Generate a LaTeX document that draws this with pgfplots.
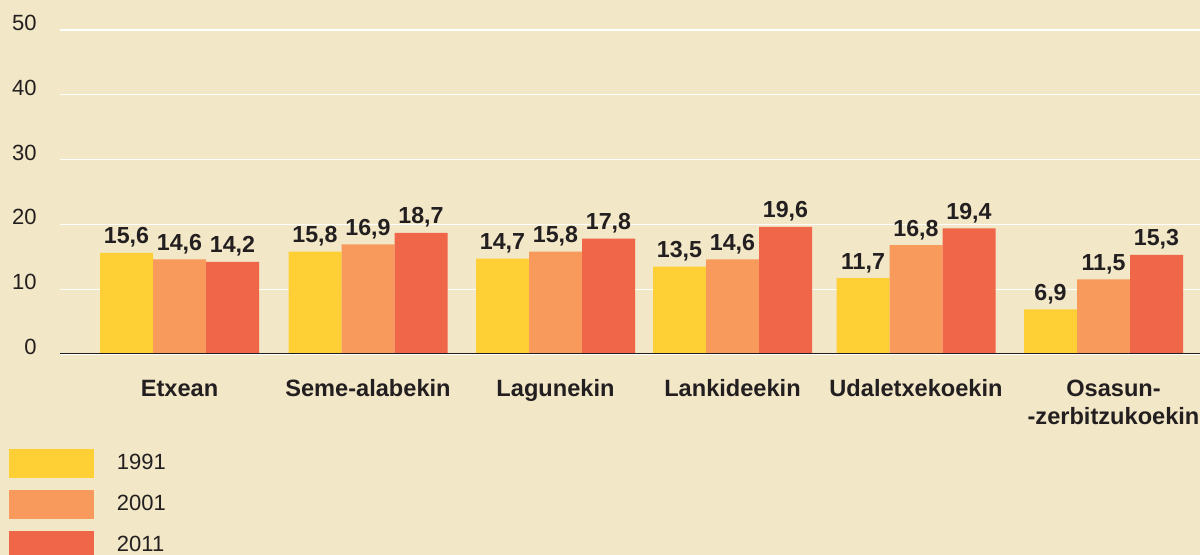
\documentclass[border=0pt]{standalone}
\usepackage{fontspec}
\setmainfont{Liberation Sans}
\usepackage{pgfplots}
\pgfplotsset{compat=1.18}
\pgfkeys{/pgf/number format/assume math mode=true}
\definecolor{bg}{RGB}{242,231,198}
\definecolor{cY}{RGB}{254,208,54}
\definecolor{cO}{RGB}{247,154,91}
\definecolor{cR}{RGB}{240,102,72}
\definecolor{txt}{RGB}{35,31,32}

\pgfplotstableread{
x      y91  y01  y11
179.5  15.6 14.6 14.2
368    15.8 16.9 18.7
555.5  14.7 15.8 17.8
732.5  13.5 14.6 19.6
916    11.7 16.8 19.4
1103.5 6.9  11.5 15.3
}\datatable

\begin{document}
\begin{tikzpicture}
\useasboundingbox (-30pt,-100.5pt) rectangle (570pt,177pt);
\clip (-30pt,-100.5pt) rectangle (570pt,177pt);
\fill[bg] (-30pt,-100.5pt) rectangle (570pt,177pt);
\begin{axis}[
  at={(0,0)}, anchor=south west,
  scale only axis, width=570pt, height=162pt,
  xmin=60, xmax=1200, ymin=0, ymax=50,
  axis line style={draw=none},
  major tick length=0pt,
  ytick={0,10,20,30,40,50},
  ymajorgrids, grid style={white, line width=0.6pt},
  yticklabel style={anchor=east, inner sep=0pt, xshift=-11.5pt, yshift=3.5pt,
    text=txt, font=\fontsize{11pt}{13pt}\selectfont},
  xtick={179.5,368,555.5,732.5,916,1103.5},
  xticklabels={Etxean, Seme-alabekin, Lagunekin, Lankideekin, Udaletxekoekin,
    {\hspace*{10pt}\begin{tabular}[t]{@{}c@{}}Osasun-\\-zerbitzukoekin\end{tabular}}},
  xticklabel style={anchor=base, inner sep=0pt, yshift=-21.5pt,
    text=txt, font=\fontsize{11.8pt}{13.75pt}\selectfont\bfseries},
  ybar=0pt, bar width=26.5pt,
  nodes near coords={\pgfmathprintnumber[fixed, fixed zerofill, precision=1, use comma]{\pgfplotspointmeta}},
  legend image code/.code={\fill (0pt,-7.25pt) rectangle (42.5pt,7.25pt);},
  legend style={at={(axis description cs:-0.04474,-0.2932)}, anchor=north west,
    draw=none, fill=none, inner sep=0pt, outer sep=0pt, row sep=6pt, column sep=11.5pt,
    nodes={inner sep=0pt, text=txt, font=\fontsize{11pt}{13pt}\selectfont}},
  legend cell align=left,
]
\addplot[fill=cY, draw=none, bar shift=-26.5pt,
  every node near coord/.append style={anchor=base, inner sep=0pt, yshift=4.5pt, text=txt, font=\fontsize{11.6pt}{13pt}\selectfont\bfseries}]
  table[x=x, y=y91] {\datatable};
\addlegendentry{1991}
\addplot[fill=cO, draw=none, bar shift=0pt,
  every node near coord/.append style={anchor=base, inner sep=0pt, yshift=4.5pt, text=txt, font=\fontsize{11.6pt}{13pt}\selectfont\bfseries}]
  table[x=x, y=y01] {\datatable};
\addlegendentry{2001}
\addplot[fill=cR, draw=none, bar shift=26.5pt,
  every node near coord/.append style={anchor=base, inner sep=0pt, yshift=4.5pt, text=txt, font=\fontsize{11.6pt}{13pt}\selectfont\bfseries}]
  table[x=x, y=y11] {\datatable};
\addlegendentry{2011}
\draw[txt, line width=0.6pt] (axis cs:60,0) -- (axis cs:1200,0);
\end{axis}
\end{tikzpicture}
\end{document}
